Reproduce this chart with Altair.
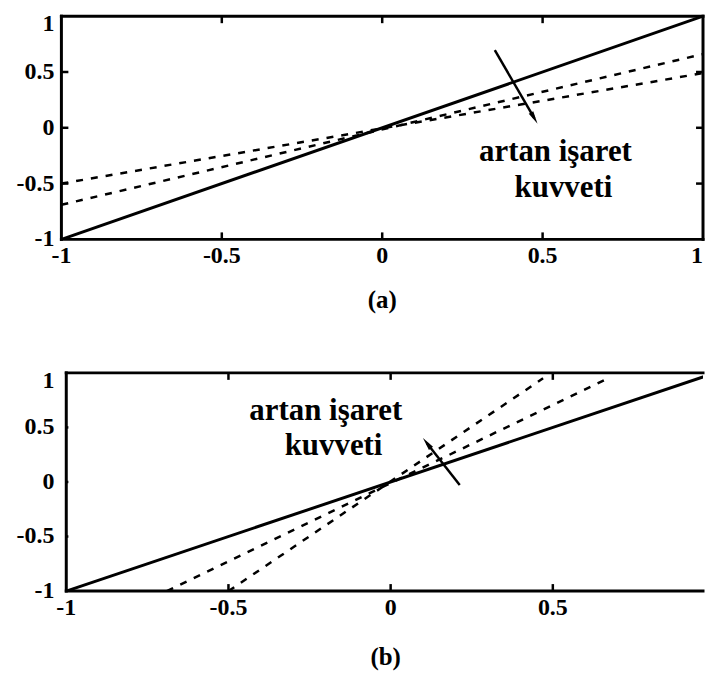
import altair as alt
import pandas as pd

# ---------------- data ----------------
tick_values = [-1, -0.5, 0, 0.5, 1]
tick_labels = ["-1", "-0.5", "0", "0.5", "1"]
inner_ticks = [-0.5, 0, 0.5]

# panel (a): solid identity line and two flatter dashed lines
a_solid_x = [-1, 1]
a_solid_y = [-1, 1]
a_dash_id = ["d1", "d1", "d2", "d2"]
a_dash_x = [-1, 1, -1, 1]
a_dash_y = [-0.50, 0.49, -0.69, 0.66]
a_arrow_x = [0.351, 0.474]
a_arrow_y = [0.696, 0.086]
a_text = ["artan işaret", "kuvveti"]
a_text_x = [0.54, 0.565]
a_text_y = [-0.295, -0.616]

# panel (b): solid identity line and two steeper dashed lines
b_solid_x = [-1, 1]
b_solid_y = [-1, 1]
b_dash_id = ["d1", "d1", "d2", "d2"]
b_dash_x = [-0.50, 0.47, -0.69, 0.67]
b_dash_y = [-1, 0.95, -1, 0.95]
b_arrow_x = [0.213, 0.112]
b_arrow_y = [-0.027, 0.355]
b_text = ["artan işaret", "kuvveti"]
b_text_x = [-0.20, -0.176]
b_text_y = [0.566, 0.245]

FONT = "Liberation Serif"
HEAD = "M0,-1L0.4,1L-0.4,1Z"


def panel(x_domain, solid_x, solid_y, dash_id, dash_x, dash_y, arrow_x, arrow_y, head_angle,
          texts, text_x, text_y, width, height, right_frame, title, title_dy, title_dx):
    xs = alt.Scale(domain=x_domain, nice=False, zero=False)
    ys = alt.Scale(domain=[-1, 1], nice=False, zero=False)

    def X(f):
        return alt.X(f, type="quantitative", scale=xs, axis=None)

    def Y(f):
        return alt.Y(f, type="quantitative", scale=ys, axis=None)

    XD = alt.X(datum=-1, type="quantitative", scale=xs, axis=None)

    solid_df = pd.DataFrame({"x": solid_x, "y": solid_y})
    dash_df = pd.DataFrame({"id": dash_id, "x": dash_x, "y": dash_y})
    tick_df = pd.DataFrame({"v": inner_ticks})
    lab_df = pd.DataFrame({"v": tick_values, "t": tick_labels})
    arrow_df = pd.DataFrame({"x": arrow_x, "y": arrow_y})
    head_df = pd.DataFrame({"x": [arrow_x[-1]], "y": [arrow_y[-1]]})
    text_df = pd.DataFrame({"t": texts, "x": text_x, "y": text_y})
    title_df = pd.DataFrame({"t": [title], "x": [0]})

    layers = []
    # frame
    fr = dict(color="black", strokeWidth=3, strokeCap="square")
    base = alt.Chart(pd.DataFrame({"k": [0]}))
    layers.append(base.mark_rule(**fr).encode(x=XD, y=alt.value(0), y2=alt.value(height)))
    layers.append(base.mark_rule(**fr).encode(x=XD, x2=alt.value(width), y=alt.value(0)))
    layers.append(base.mark_rule(**fr).encode(x=XD, x2=alt.value(width), y=alt.value(height)))
    if right_frame:
        layers.append(base.mark_rule(**fr).encode(x=alt.value(width), y=alt.value(0), y2=alt.value(height)))

    # inward ticks
    tk = alt.Chart(tick_df)
    ts = dict(color="black", strokeWidth=2.5)
    layers.append(tk.mark_rule(**ts).encode(y=Y("v"), x=XD, x2=alt.value(7)))
    if right_frame:
        layers.append(tk.mark_rule(**ts).encode(y=Y("v"), x=alt.value(width - 7), x2=alt.value(width)))
    layers.append(tk.mark_rule(**ts).encode(x=X("v"), y=alt.value(0), y2=alt.value(7)))
    layers.append(tk.mark_rule(**ts).encode(x=X("v"), y=alt.value(height - 7), y2=alt.value(height)))

    # tick labels
    lab = alt.Chart(lab_df)
    ls = dict(font=FONT, fontSize=24, fontWeight="bold", color="black")
    layers.append(lab.transform_filter("datum.v < 1").mark_text(align="right", baseline="middle", **ls)
                  .encode(x=alt.value(-7), y=Y("v"), text="t:N"))
    layers.append(lab.transform_filter("datum.v == 1").mark_text(align="right", baseline="top", dy=-4, **ls)
                  .encode(x=alt.value(-7), y=Y("v"), text="t:N"))
    layers.append(lab.transform_filter("datum.v < 1").mark_text(align="center", baseline="top", **ls)
                  .encode(x=X("v"), y=alt.value(height + 5), text="t:N"))
    if right_frame:
        layers.append(lab.transform_filter("datum.v == 1").mark_text(align="right", baseline="top", **ls)
                      .encode(x=X("v"), y=alt.value(height + 5), text="t:N"))

    # curves
    layers.append(alt.Chart(solid_df).mark_line(color="black", strokeWidth=3, clip=True)
                  .encode(x=X("x"), y=Y("y")))
    layers.append(alt.Chart(dash_df).mark_line(color="black", strokeWidth=2.5, strokeDash=[7, 8], clip=True)
                  .encode(x=X("x"), y=Y("y"), detail="id:N"))

    # arrow and annotation
    layers.append(alt.Chart(arrow_df).mark_line(color="black", strokeWidth=2.5).encode(x=X("x"), y=Y("y")))
    layers.append(alt.Chart(head_df).mark_point(shape=HEAD, filled=True, color="black", size=170,
                                                opacity=1, angle=head_angle).encode(x=X("x"), y=Y("y")))
    layers.append(alt.Chart(text_df).mark_text(font=FONT, fontSize=31, fontWeight="bold", color="black",
                                               align="center", baseline="alphabetic")
                  .encode(x=X("x"), y=Y("y"), text="t:N"))

    # panel caption
    layers.append(alt.Chart(title_df).mark_text(font=FONT, fontSize=25, fontWeight="bold", color="black",
                                                align="center", baseline="middle", dx=title_dx)
                  .encode(x=X("x"), y=alt.value(height + title_dy), text="t:N"))

    return alt.layer(*layers).properties(width=width, height=height)


pa = panel([-1, 1], a_solid_x, a_solid_y, a_dash_id, a_dash_x, a_dash_y, a_arrow_x, a_arrow_y, 150,
           a_text, a_text_x, a_text_y, 644, 224, True, "(a)", 61, 0)
pb = panel([-1.015, 0.963], b_solid_x, b_solid_y, b_dash_id, b_dash_x, b_dash_y, b_arrow_x, b_arrow_y, 322,
           b_text, b_text_x, b_text_y, 644, 219, False, "(b)", 66, -5)

chart = alt.vconcat(pa, pb, spacing=56).properties(
    padding={"left": 8.6, "top": 3, "right": 0, "bottom": 0},
    background="white",
).configure_view(strokeWidth=0)

chart.save("out.html", embed_options={"renderer": "svg", "actions": False})
